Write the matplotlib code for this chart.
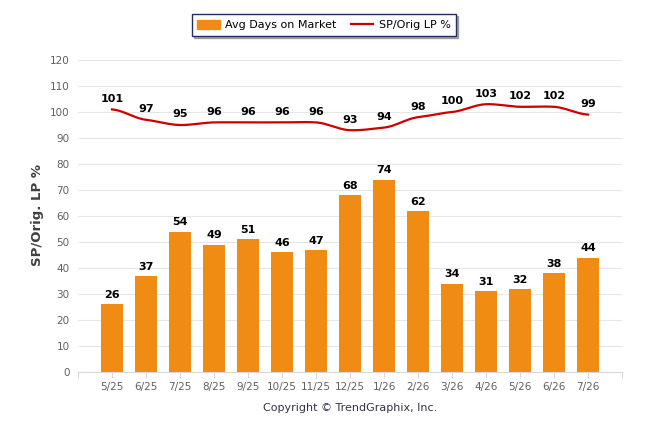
import matplotlib
matplotlib.use("Agg")
import matplotlib.pyplot as plt
from matplotlib.patches import Patch
from matplotlib.lines import Line2D
import numpy as np

months = ["5/25", "6/25", "7/25", "8/25", "9/25", "10/25", "11/25", "12/25",
          "1/26", "2/26", "3/26", "4/26", "5/26", "6/26", "7/26"]
avg_days = [26, 37, 54, 49, 51, 46, 47, 68, 74, 62, 34, 31, 32, 38, 44]
sp_orig = [101, 97, 95, 96, 96, 96, 96, 93, 94, 98, 100, 103, 102, 102, 99]

BAR_C = "#f08c14"
LINE_C = "#cc0000"
TICK_C = "#606060"


def _smooth(xs, ys, n=20):
    # hermite spline through the points, only for the drawn curve
    xs = np.asarray(xs, float)
    ys = np.asarray(ys, float)
    px = np.concatenate([[2 * xs[0] - xs[1]], xs, [2 * xs[-1] - xs[-2]]])
    py = np.concatenate([[ys[0]], ys, [ys[-1]]])
    outx, outy = [], []
    t = np.linspace(0, 1, n, endpoint=False)
    for i in range(1, len(px) - 2):
        p0, p1, p2, p3 = py[i - 1], py[i], py[i + 1], py[i + 2]
        m1 = (p2 - p0) / 2 * 0.5
        m2 = (p3 - p1) / 2 * 0.5
        h00 = 2 * t**3 - 3 * t**2 + 1
        h10 = t**3 - 2 * t**2 + t
        h01 = -2 * t**3 + 3 * t**2
        h11 = t**3 - t**2
        outy.extend(h00 * p1 + h10 * m1 + h01 * p2 + h11 * m2)
        outx.extend(px[i] + t * (px[i + 1] - px[i]))
    outx.append(xs[-1])
    outy.append(ys[-1])
    return np.array(outx), np.array(outy)


fig = plt.figure(figsize=(6.46, 4.34), dpi=100)
ax = fig.add_axes([78 / 646, 62 / 434, (622 - 78) / 646, (372 - 60) / 434])

x = np.arange(len(months))
ax.bar(x, avg_days, width=0.62, color=BAR_C, zorder=2)
for xi, v in zip(x, avg_days):
    ax.annotate(str(v), (xi, v), xytext=(0, 3), textcoords="offset points",
                ha="center", va="bottom", fontsize=8, fontweight="bold", color="black")

sx, sy = _smooth(x, sp_orig)
ax.plot(sx, sy, color=LINE_C, lw=1.6, zorder=3)
for xi, v in zip(x, sp_orig):
    ax.annotate(str(v), (xi, v), xytext=(0, 4), textcoords="offset points",
                ha="center", va="bottom", fontsize=8, fontweight="bold", color="black")

ax.set_xlim(-1, 15)
ax.set_ylim(0, 120)
ax.set_yticks(range(0, 121, 10))
ax.set_xticks(range(-1, 16))
ax.set_xticklabels([""] + months + [""])
ax.tick_params(axis="x", colors="#d8d8d8", labelcolor=TICK_C, labelsize=7.5,
               length=4, width=0.8, pad=3)
ax.tick_params(axis="y", length=0, labelcolor=TICK_C, labelsize=7.5, pad=6)
ax.grid(axis="y", color="#e6e6e6", lw=0.8, zorder=0)
for s in ["top", "right", "left"]:
    ax.spines[s].set_visible(False)
ax.spines["bottom"].set_color("#d8d8d8")
ax.set_axisbelow(True)

fig.text(38 / 646, 1 - 215 / 434, "SP/Orig. LP %", rotation=90, ha="center", va="center",
         fontsize=9.5, fontweight="bold", color="#404040")
fig.text(350 / 646, 1 - 408 / 434, "Copyright \u00a9 TrendGraphix, Inc.", ha="center",
         va="center", fontsize=8, color="#333344")

handles = [Patch(color=BAR_C, label="Avg Days on Market"),
           Line2D([0], [0], color=LINE_C, lw=1.6, label="SP/Orig LP %")]
leg = fig.legend(handles=handles, loc="center", bbox_to_anchor=(324 / 646, 1 - 25 / 434),
                 ncol=2, fontsize=8, frameon=True, fancybox=False,
                 shadow={"ox": 1.5, "oy": -1.5, "color": "#777777", "alpha": 0.6},
                 handlelength=2.0, handleheight=0.9, columnspacing=1.3,
                 handletextpad=0.5, borderpad=0.5)
leg.get_frame().set_edgecolor("#1f3060")
leg.get_frame().set_linewidth(1.0)

fig.savefig("out.png", dpi=100)
